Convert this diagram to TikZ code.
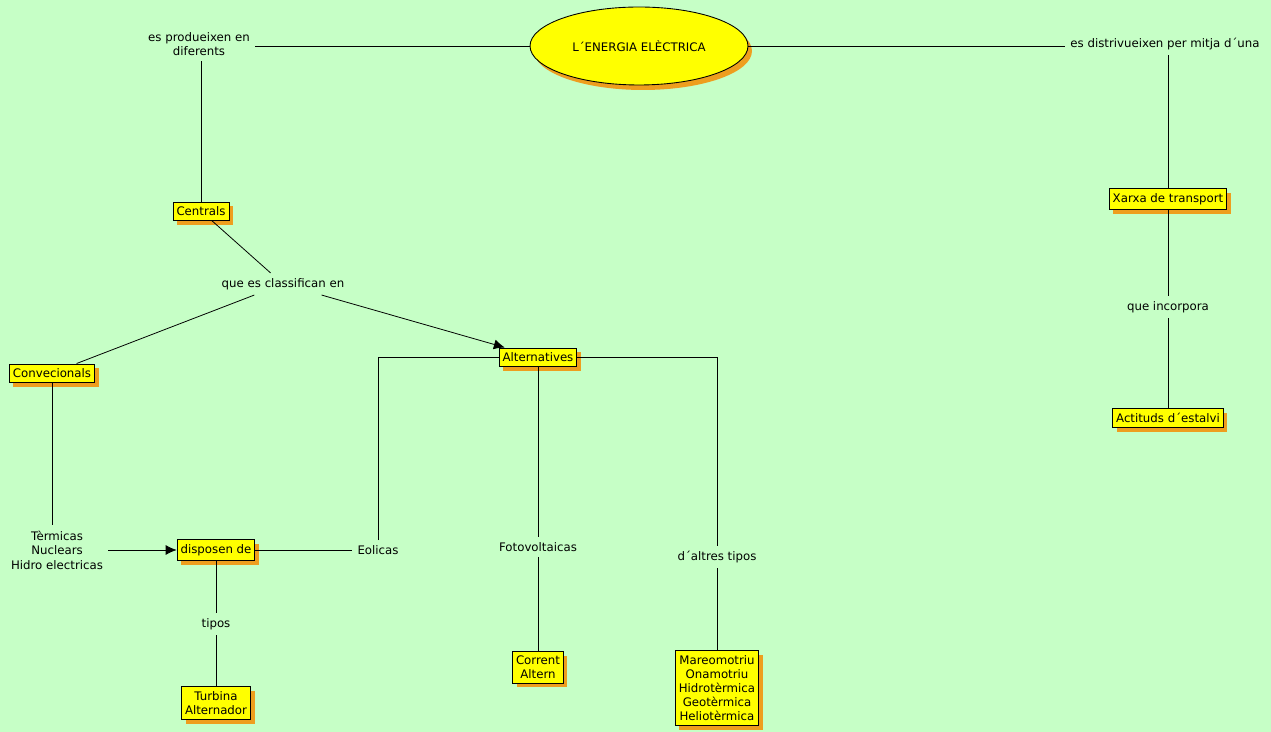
\documentclass[tikz,border=0pt]{standalone}
\usepackage{fontspec}
\newfontfamily\mapfont{DejaVu Sans}
\usetikzlibrary{arrows.meta,shapes.geometric,shadows,positioning}
\definecolor{mapbg}{RGB}{198,255,198}
\definecolor{conyellow}{RGB}{255,255,0}
\definecolor{shadeorange}{RGB}{238,158,30}

\begin{document}
\begin{tikzpicture}[
    x=0.02cm, y=-0.02cm,
    concept/.style={draw, fill=conyellow, line width=0.5pt, align=center, font=\mapfont\fontsize{6.7}{8}\selectfont,
        inner xsep=0.07cm, inner ysep=0.09cm,
        drop shadow={shadow xshift=0.08cm, shadow yshift=-0.09cm, fill=shadeorange, opacity=1}},
    lbl/.style={align=center, font=\mapfont\fontsize{6.7}{8.2}\selectfont, inner sep=0.1cm},
    link/.style={line width=0.45pt},
    arr/.style={-{Latex[length=0.22cm, width=0.2cm]}, line width=0.45pt}
]
\fill[mapbg] (0,0) rectangle (1271,732);
\useasboundingbox (0,0) rectangle (1271,732);

% main concept
\node[ellipse, draw, fill=conyellow, line width=0.5pt, minimum width=4.36cm, minimum height=1.56cm,
      font=\mapfont\fontsize{6.7}{8}\selectfont,
      drop shadow={shadow xshift=0.08cm, shadow yshift=-0.1cm, fill=shadeorange, opacity=1}]
      (energia) at (639,46) {L´ENERGIA ELÈCTRICA};

% left branch
\node[lbl] (produeixen) at (199,44) {es produeixen en\\diferents};
\node[concept] (centrals) at (201,211) {Centrals};
\node[lbl] (classifican) at (283,284) {que es classifican en};
\node[concept] (convec) at (52,373) {Convecionals};
\node[concept] (altern) at (538,357) {Alternatives};
\node[lbl] (termiques) at (57,550) {Tèrmicas\\Nuclears\\Hidro electricas};
\node[concept] (disposen) at (216,550) {disposen de};
\node[lbl] (tipos) at (216,624) {tipos};
\node[concept] (turbina) at (216,703) {Turbina\\Alternador};
\node[lbl] (eolicas) at (378,550) {Eolicas};
\node[lbl] (foto) at (538,547) {Fotovoltaicas};
\node[concept] (corrent) at (538,667) {Corrent\\Altern};
\node[lbl] (altres) at (717,557) {d´altres tipos};
\node[concept] (mareo) at (717,688) {Mareomotriu\\Onamotriu\\Hidrotèrmica\\Geotèrmica\\Heliotèrmica};

% right branch
\node[lbl] (distrib) at (1165,44) {es distrivueixen per mitja d´una};
\node[concept] (xarxa) at (1168,199) {Xarxa de transport};
\node[lbl] (incorpora) at (1168,307) {que incorpora};
\node[concept] (actituds) at (1168,418) {Actituds d´estalvi};

\draw[link] (energia) -- (produeixen.east |- energia);
\draw[link] (produeixen.south -| centrals.north) -- (centrals);
\draw[link] (centrals) -- (classifican);
\draw[link] (classifican) -- (convec);
\draw[arr] (classifican) -- (altern);
\draw[link] (convec.south) -- (convec.south |- termiques.north);
\draw[arr] (termiques) -- (disposen);
\draw[link] (disposen) -- (eolicas);
\draw[link] (eolicas.north) |- (altern.west);
\draw[link] (disposen) -- (tipos);
\draw[link] (tipos) -- (turbina);
\draw[link] (altern) -- (foto);
\draw[link] (foto) -- (corrent);
\draw[link] (altern.east) -| (altres.north);
\draw[link] (altres) -- (mareo);

\draw[link] (energia) -- (distrib.west |- energia);
\draw[link] (distrib.south -| xarxa.north) -- (xarxa);
\draw[link] (xarxa) -- (incorpora);
\draw[link] (incorpora) -- (actituds);
\end{tikzpicture}
\end{document}
